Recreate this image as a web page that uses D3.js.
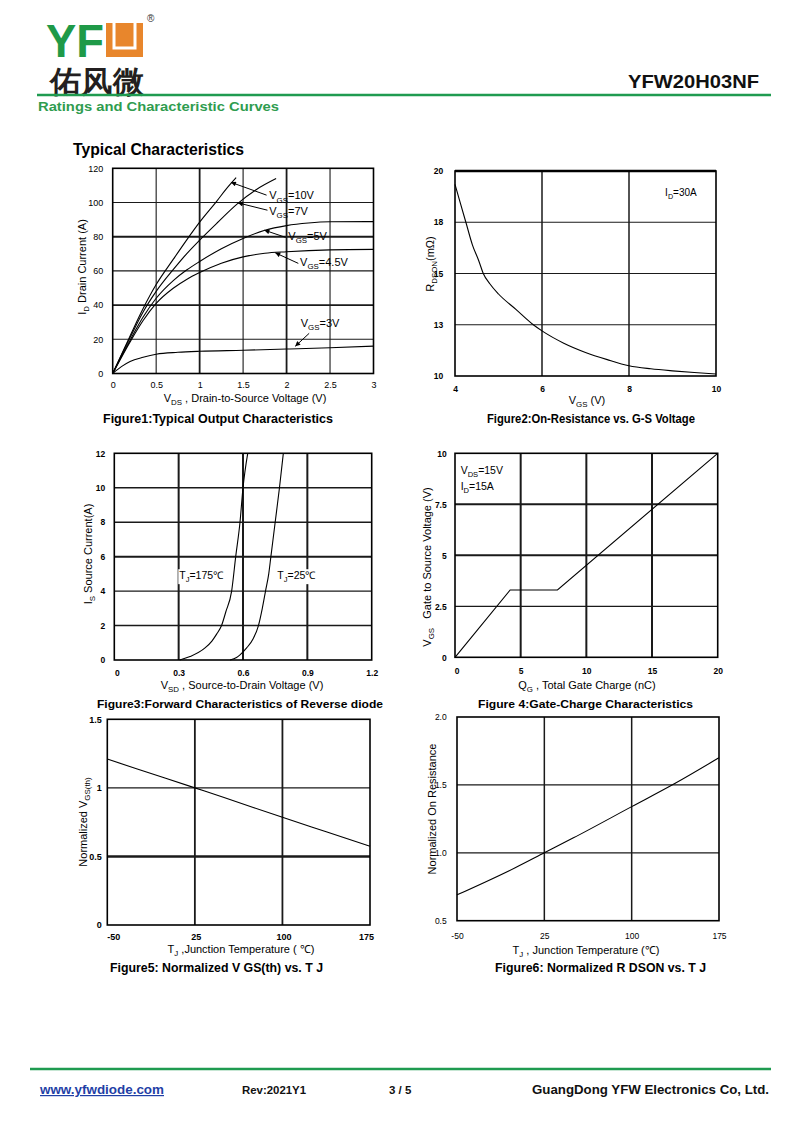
<!DOCTYPE html>
<html><head><meta charset="utf-8">
<script src="https://cdn.jsdelivr.net/npm/d3@7"></script>
<style>
body{margin:0;background:#fff}
svg{display:block}
text{font-family:"Liberation Sans",Arial,sans-serif;white-space:pre}
</style>
</head><body>
<script>
// ===================== DATA =====================
// Figure 1: Typical Output Characteristics (VDS [V], ID [A])
const fig1XTicks = [0, 0.5, 1, 1.5, 2, 2.5, 3];
const fig1XLabels = ["0", "0.5", "1", "1.5", "2", "2.5", "3"];
const fig1YTicks = [0, 20, 40, 60, 80, 100, 120];
const fig1YLabels = ["0", "20", "40", "60", "80", "100", "120"];
const fig1Vgs10 = [[0,0],[0.2,22],[0.35,38],[0.5,52],[0.7,67],[0.85,78],[1.0,88.5],[1.2,101],[1.3,107.5],[1.42,114.5]];
const fig1Vgs7 = [[0,0],[0.2,21],[0.35,36],[0.5,48],[0.7,61],[0.85,70],[1.0,78],[1.2,88],[1.44,99.5],[1.65,107.5],[1.88,114]];
const fig1Vgs5 = [[0,0],[0.2,19.5],[0.35,33],[0.5,44],[0.7,54.5],[0.85,60.5],[1.0,65.5],[1.25,73],[1.5,79],[1.75,83.8],[2.0,86.5],[2.25,88],[2.5,88.7],[3,88.8]];
const fig1Vgs45 = [[0,0],[0.2,18.5],[0.35,31],[0.5,41],[0.7,50],[0.85,55],[1.0,59],[1.25,64.5],[1.5,68.2],[1.75,70.3],[2.0,71.2],[2.5,72.3],[3,72.6]];
const fig1Vgs3 = [[0,0],[0.1,4],[0.2,7],[0.35,9.5],[0.5,11.3],[0.75,12.4],[1.0,13],[1.5,13.6],[2.0,14.3],[2.5,15.1],[3,16]];
const fig1LabelNames = ["=10V", "=7V", "=5V", "=4.5V", "=3V"];
// label anchor [x,y], arrow start [x,y], arrow tip [x,y] in data units
const fig1LabelPos = [[1.80,101.8],[1.80,92.6],[2.02,78],[2.155,62.8],[2.163,27.3]];
const fig1ArrowFrom = [[1.77,104.3],[1.78,95.5],[1.99,79.6],[2.135,64.4],[2.26,23.5]];
const fig1ArrowTo = [[1.36,111.8],[1.44,99.8],[1.745,83.8],[1.87,70.6],[2.10,15.9]];

// Figure 2: On-Resistance vs VGS
const fig2XTicks = [4, 6, 8, 10];
const fig2XLabels = ["4", "6", "8", "10"];
const fig2YTicks = [10, 12.5, 15, 17.5, 20];
const fig2YLabels = ["10", "13", "15", "18", "20"];
const fig2Rdson = [[4,19.35],[4.1,18.6],[4.25,17.5],[4.4,16.4],[4.55,15.6],[4.65,15],[4.8,14.5],[5.0,14.0],[5.4,13.25],[5.8,12.5],[6.0,12.2],[6.5,11.6],[7.0,11.15],[7.5,10.8],[8.0,10.5],[8.5,10.35],[9.0,10.25],[9.5,10.17],[10,10.1]];
const fig2NotePos = [8.83, 18.78];

// Figure 3: Forward characteristics of reverse diode
const fig3XTicks = [0, 0.3, 0.6, 0.9, 1.2];
const fig3XLabels = ["0", "0.3", "0.6", "0.9", "1.2"];
const fig3YTicks = [0, 2, 4, 6, 8, 10, 12];
const fig3YLabels = ["0", "2", "4", "6", "8", "10", "12"];
const fig3Tj175 = [[0.305,0],[0.353,0.2],[0.423,0.7],[0.455,1.1],[0.477,1.5],[0.50,2.0],[0.52,2.8],[0.547,4.0],[0.566,6.0],[0.586,8.0],[0.60,10],[0.622,12]];
const fig3Tj25 = [[0.54,0],[0.57,0.15],[0.586,0.3],[0.617,0.7],[0.648,1.25],[0.672,2.0],[0.69,3.0],[0.705,4.0],[0.72,5.0],[0.73,6.0],[0.75,8.0],[0.77,10],[0.788,12]];
const fig3LabelPos = [[0.303,4.69],[0.76,4.69]];

// Figure 4: Gate charge
const fig4XTicks = [0, 5, 10, 15, 20];
const fig4XLabels = ["0", "5", "10", "15", "20"];
const fig4YTicks = [0, 2.5, 5, 7.5, 10];
const fig4YLabels = ["0", "2.5", "5", "7.5", "10"];
const fig4Vgs = [[0,0],[4.2,3.3],[7.8,3.3],[20,10]];
const fig4NotePos = [[0.43,8.97],[0.43,8.2]];

// Figure 5: Normalized VGS(th) vs TJ
const fig5XTicks = [-50, 25, 100, 175];
const fig5XLabels = ["-50", "25", "100", "175"];
const fig5YTicks = [0, 0.5, 1, 1.5];
const fig5YLabels = ["0", "0.5", "1", "1.5"];
const fig5Vth = [[-50,1.21],[0,1.07],[25,1.0],[50,0.93],[100,0.785],[137.5,0.68],[175,0.575]];

// Figure 6: Normalized RDSON vs TJ
const fig6XTicks = [-50, 25, 100, 175];
const fig6XLabels = ["-50", "25", "100", "175"];
const fig6YTicks = [0.5, 1.0, 1.5, 2.0];
const fig6YLabels = ["0.5", "1.0", "1.5", "2.0"];
const fig6Rdson = [[-50,0.69],[0,0.89],[25,1.0],[50,1.11],[100,1.34],[137,1.51],[175,1.70]];

// ===================== DRAWING =====================
const svg = d3.select('body').append('svg').attr('width', 800).attr('height', 1130);
svg.append('rect').attr('width', 800).attr('height', 1130).attr('fill', '#fff');
const defs = svg.append('defs');
defs.append('marker').attr('id', 'arr').attr('viewBox', '0 0 10 10')
  .attr('refX', 10).attr('refY', 5).attr('markerWidth', 7).attr('markerHeight', 5)
  .attr('markerUnits', 'userSpaceOnUse').attr('orient', 'auto')
  .append('path').attr('d', 'M0,0L10,5L0,10z').attr('fill', '#000');

const SANS = '"Liberation Sans",Arial,sans-serif';
const CAL = 'Lato,"Open Sans",sans-serif';

function rich(parent, parts, fs, attrs) {
  const t = parent.append('text').attr('font-size', fs).attr('fill', '#000');
  for (const k in attrs) t.attr(k, attrs[k]);
  let shifted = false;
  parts.forEach(p => {
    if (typeof p === 'string') {
      const s = t.append('tspan').text(p);
      if (shifted) { s.attr('dy', -fs * 0.28); shifted = false; }
    } else {
      t.append('tspan').text(p.sub).attr('font-size', fs * 0.72).attr('dy', fs * 0.28);
      shifted = true;
    }
  });
  return t;
}

function chart(c) {
  const g = svg.append('g');
  const [L, T, R, B] = c.box;
  const x = d3.scaleLinear().domain(c.xDomain).range([L, R]);
  const y = d3.scaleLinear().domain(c.yDomain).range([B, T]);
  c.xGrid.forEach(v => g.append('line').attr('x1', x(v)).attr('x2', x(v)).attr('y1', T).attr('y2', B)
    .attr('stroke', '#1a1a1a').attr('stroke-width', c.xGridW(v)));
  c.yGrid.forEach(v => g.append('line').attr('y1', y(v)).attr('y2', y(v)).attr('x1', L).attr('x2', R)
    .attr('stroke', '#1a1a1a').attr('stroke-width', c.yGridW(v)));
  g.append('rect').attr('x', L).attr('y', T).attr('width', R - L).attr('height', B - T)
    .attr('fill', 'none').attr('stroke', '#000').attr('stroke-width', c.borderW || 1.6);
  if (c.topW) g.append('line').attr('x1', L).attr('x2', R).attr('y1', T).attr('y2', T).attr('stroke', '#000').attr('stroke-width', c.topW);
  const ax = g.append('g').attr('transform', `translate(0,${B})`)
    .call(d3.axisBottom(x).tickValues(c.xTicks).tickFormat((d, i) => c.xLabels[i]).tickSize(0).tickPadding(c.xPad));
  ax.select('.domain').remove();
  ax.selectAll('text').attr('font-size', c.tickFs).attr('font-weight', c.tickFw || 'normal')
    .attr('font-family', SANS).attr('fill', '#000');
  if (c.xShift) ax.selectAll('text').attr('dx', (d, i) => c.xShift[i] || 0);
  const ay = g.append('g').attr('transform', `translate(${L},0)`)
    .call(d3.axisLeft(y).tickValues(c.yTicks).tickFormat((d, i) => c.yLabels[i]).tickSize(0).tickPadding(c.yPad));
  ay.select('.domain').remove();
  ay.selectAll('text').attr('font-size', c.tickFs).attr('font-weight', c.tickFw || 'normal')
    .attr('font-family', SANS).attr('fill', '#000');
  rich(g, c.xTitle, c.titleFs || 11, { x: c.xTitlePos[0], y: c.xTitlePos[1], 'text-anchor': 'middle' });
  rich(g, c.yTitle, c.titleFs || 11, { transform: `translate(${c.yTitlePos[0]},${c.yTitlePos[1]}) rotate(-90)`, 'text-anchor': 'middle' });
  return { g, x, y };
}

function drawLine(ch, pts, curve) {
  ch.g.append('path').datum(pts)
    .attr('d', d3.line().x(d => ch.x(d[0])).y(d => ch.y(d[1])).curve(curve || d3.curveMonotoneX))
    .attr('fill', 'none').attr('stroke', '#000').attr('stroke-width', 1.1);
}

// ---------- Header ----------
const GREEN = '#1f9b50';
svg.append('text').attr('x', 46).attr('y', 57).attr('font-size', 46).attr('font-weight', 'bold')
  .attr('font-family', SANS).attr('fill', '#1f9a48').attr('textLength', 58).attr('lengthAdjust', 'spacingAndGlyphs').text('YF');
svg.append('rect').attr('x', 106).attr('y', 23).attr('width', 37).attr('height', 34).attr('fill', '#e8862c');
svg.append('path').attr('d', 'M114,23 V48 H135 V23').attr('fill', 'none').attr('stroke', '#fff').attr('stroke-width', 3);
svg.append('text').attr('x', 147).attr('y', 22).attr('font-size', 10).attr('fill', '#333').attr('font-family', SANS).text('®');
svg.append('text').attr('x', 50).attr('y', 91.5).attr('font-size', 30).attr('font-weight', 'bold')
  .attr('font-family', '"Noto Sans CJK SC",sans-serif').attr('fill', '#231f20')
  .attr('textLength', 94).attr('lengthAdjust', 'spacingAndGlyphs').text('佑风微');
svg.append('text').attr('x', 628).attr('y', 88).attr('font-size', 18).attr('font-weight', 'bold')
  .attr('font-family', SANS).attr('fill', '#111').attr('textLength', 131).attr('lengthAdjust', 'spacingAndGlyphs').text('YFW20H03NF');
svg.append('line').attr('x1', 37).attr('x2', 771).attr('y1', 95).attr('y2', 95).attr('stroke', GREEN).attr('stroke-width', 2.5);
svg.append('text').attr('x', 38).attr('y', 111).attr('font-size', 13).attr('font-weight', 'bold')
  .attr('font-family', SANS).attr('fill', '#2f9c4f').attr('textLength', 241).attr('lengthAdjust', 'spacingAndGlyphs')
  .text('Ratings and Characteristic Curves');
svg.append('text').attr('x', 73).attr('y', 155).attr('font-size', 16).attr('font-weight', 'bold')
  .attr('font-family', CAL).attr('fill', '#000').attr('textLength', 171).attr('lengthAdjust', 'spacingAndGlyphs')
  .text('Typical Characteristics');

// ---------- Figure 1 ----------
const f1 = chart({
  box: [112.7, 168.3, 373.5, 373.5], xDomain: [0, 3], yDomain: [0, 120],
  xGrid: fig1XTicks.slice(1, -1), yGrid: fig1YTicks.slice(1, -1),
  xGridW: v => (v === 1 || v === 2) ? 1.8 : 1.1, yGridW: v => (v === 40 || v === 80) ? 1.9 : 1.1,
  xTicks: fig1XTicks, xLabels: fig1XLabels, yTicks: fig1YTicks, yLabels: fig1YLabels,
  xPad: 8.5, yPad: 9.4, tickFs: 9,
  xTitle: ['V', { sub: 'DS' }, ' , Drain-to-Source Voltage (V)'], xTitlePos: [245, 401.5],
  yTitle: ['I', { sub: 'D' }, ' Drain Current (A)'], yTitlePos: [85.5, 267]
});
[fig1Vgs10, fig1Vgs7, fig1Vgs5, fig1Vgs45, fig1Vgs3].forEach(s => drawLine(f1, s));
fig1LabelNames.forEach((n, i) => {
  f1.g.append('line').attr('x1', f1.x(fig1ArrowFrom[i][0])).attr('y1', f1.y(fig1ArrowFrom[i][1]))
    .attr('x2', f1.x(fig1ArrowTo[i][0])).attr('y2', f1.y(fig1ArrowTo[i][1]))
    .attr('stroke', '#000').attr('stroke-width', 1).attr('marker-end', 'url(#arr)');
  rich(f1.g, ['V', { sub: 'GS' }, n], 11, { x: f1.x(fig1LabelPos[i][0]), y: f1.y(fig1LabelPos[i][1]) });
});
svg.append('text').attr('x', 103).attr('y', 423).attr('font-size', 12.5).attr('font-weight', 'bold')
  .attr('font-family', CAL).attr('textLength', 230).attr('lengthAdjust', 'spacingAndGlyphs')
  .text('Figure1:Typical Output Characteristics');

// ---------- Figure 2 ----------
const f2 = chart({
  box: [455, 171, 716, 376], xDomain: [4, 10], yDomain: [10, 20],
  xGrid: fig2XTicks.slice(1, -1), yGrid: fig2YTicks.slice(1, -1),
  xGridW: () => 1.5, yGridW: () => 1.2, topW: 2.6,
  xTicks: fig2XTicks, xLabels: fig2XLabels, yTicks: fig2YTicks, yLabels: fig2YLabels,
  xPad: 10, yPad: 11.7, tickFs: 8.5, tickFw: 'bold',
  xTitle: ['V', { sub: 'GS' }, ' (V)'], xTitlePos: [587, 403.5],
  yTitle: ['R', { sub: 'DSON' }, '(mΩ)'], yTitlePos: [434, 264]
});
drawLine(f2, fig2Rdson);
rich(f2.g, ['I', { sub: 'D' }, '=30A'], 10, { x: f2.x(fig2NotePos[0]), y: f2.y(fig2NotePos[1]) });
svg.append('text').attr('x', 487).attr('y', 423).attr('font-size', 12.5).attr('font-weight', 'bold')
  .attr('font-family', CAL).attr('textLength', 208).attr('lengthAdjust', 'spacingAndGlyphs')
  .text('Figure2:On-Resistance vs. G-S Voltage');

// ---------- Figure 3 ----------
const f3 = chart({
  box: [114.3, 453.3, 371.7, 660], xDomain: [0, 1.2], yDomain: [0, 12],
  xGrid: fig3XTicks.slice(1, -1), yGrid: fig3YTicks.slice(1, -1),
  xGridW: () => 2, yGridW: v => v === 6 ? 2 : 1.4,
  xTicks: fig3XTicks, xLabels: fig3XLabels, yTicks: fig3YTicks, yLabels: fig3YLabels,
  xPad: 9.5, yPad: 9, tickFs: 8.5, tickFw: 'bold', xShift: [2.5, 0, 0, 0, 0],
  xTitle: ['V', { sub: 'SD' }, ' , Source-to-Drain Voltage (V)'], xTitlePos: [242, 688.5],
  yTitle: ['I', { sub: 'S' }, ' Source Current(A)'], yTitlePos: [92, 554]
});
drawLine(f3, fig3Tj175);
drawLine(f3, fig3Tj25);
[['=175℃'], ['=25℃']].forEach((n, i) => {
  const t = rich(f3.g, ['T', { sub: 'J' }, n[0]], 10.5, { x: f3.x(fig3LabelPos[i][0]), y: f3.y(fig3LabelPos[i][1]) });
  const bb = t.node().getBBox();
  f3.g.insert('rect', () => t.node()).attr('x', bb.x - 1).attr('y', bb.y).attr('width', bb.width + 2).attr('height', bb.height).attr('fill', '#fff');
});
svg.append('text').attr('x', 240).attr('y', 707.5).attr('text-anchor', 'middle').attr('font-size', 11).attr('font-weight', 'bold')
  .attr('font-family', SANS).attr('textLength', 286).attr('lengthAdjust', 'spacingAndGlyphs')
  .text('Figure3:Forward Characteristics of Reverse diode');

// ---------- Figure 4 ----------
const f4 = chart({
  box: [455, 453.3, 717.7, 657.3], xDomain: [0, 20], yDomain: [0, 10],
  xGrid: fig4XTicks.slice(1, -1), yGrid: fig4YTicks.slice(1, -1),
  xGridW: () => 2, yGridW: v => v === 2.5 ? 1.3 : 2,
  xTicks: fig4XTicks, xLabels: fig4XLabels, yTicks: fig4YTicks, yLabels: fig4YLabels,
  xPad: 11, yPad: 8.3, tickFs: 8.5, tickFw: 'bold', xShift: [1.5, 0, 0, 0, 0],
  xTitle: ['Q', { sub: 'G' }, ' , Total Gate Charge (nC)'], xTitlePos: [587, 689],
  yTitle: ['V', { sub: 'GS' }, '   Gate to Source Voltage (V)'], yTitlePos: [430.5, 567]
});
drawLine(f4, fig4Vgs, d3.curveLinear);
rich(f4.g, ['V', { sub: 'DS' }, '=15V'], 10.5, { x: f4.x(fig4NotePos[0][0]), y: f4.y(fig4NotePos[0][1]) });
rich(f4.g, ['I', { sub: 'D' }, '=15A'], 10.5, { x: f4.x(fig4NotePos[1][0]), y: f4.y(fig4NotePos[1][1]) });
svg.append('text').attr('x', 585.5).attr('y', 707.5).attr('text-anchor', 'middle').attr('font-size', 11).attr('font-weight', 'bold')
  .attr('font-family', SANS).attr('textLength', 215).attr('lengthAdjust', 'spacingAndGlyphs')
  .text('Figure 4:Gate-Charge Characteristics');

// ---------- Figure 5 ----------
const f5 = chart({
  box: [107.3, 719.3, 370, 925], xDomain: [-50, 175], yDomain: [0, 1.5],
  xGrid: fig5XTicks.slice(1, -1), yGrid: fig5YTicks.slice(1, -1),
  xGridW: () => 1.8, yGridW: v => v === 0.5 ? 2.4 : 1.2,
  xTicks: fig5XTicks, xLabels: fig5XLabels, yTicks: fig5YTicks, yLabels: fig5YLabels,
  xPad: 8.5, yPad: 5.6, tickFs: 9, tickFw: 'bold', xShift: [6, 1, 1, -4],
  xTitle: ['T', { sub: 'J' }, ' ,Junction Temperature ( ℃)'], xTitlePos: [241, 953],
  yTitle: ['Normalized V', { sub: 'GS(th)' }], yTitlePos: [87, 822]
});
drawLine(f5, fig5Vth);
svg.append('text').attr('x', 110).attr('y', 971.5).attr('font-size', 12.5).attr('font-weight', 'bold')
  .attr('font-family', CAL).attr('textLength', 213).attr('lengthAdjust', 'spacingAndGlyphs')
  .text('Figure5: Normalized V GS(th) vs. T J');

// ---------- Figure 6 ----------
const f6 = chart({
  box: [457, 717, 719, 920.7], xDomain: [-50, 175], yDomain: [0.5, 2.0],
  xGrid: fig6XTicks.slice(1, -1), yGrid: fig6YTicks.slice(1, -1),
  xGridW: () => 1.5, yGridW: () => 1.3,
  xTicks: fig6XTicks, xLabels: fig6XLabels, yTicks: fig6YTicks, yLabels: fig6YLabels,
  xPad: 12, yPad: 10.3, tickFs: 8.5,
  xTitle: ['T', { sub: 'J' }, ' , Junction Temperature (℃)'], xTitlePos: [586, 954],
  yTitle: ['Normalized On Resistance'], yTitlePos: [435.5, 809]
});
drawLine(f6, fig6Rdson);
svg.append('text').attr('x', 495).attr('y', 971.5).attr('font-size', 12.5).attr('font-weight', 'bold')
  .attr('font-family', CAL).attr('textLength', 211).attr('lengthAdjust', 'spacingAndGlyphs')
  .text('Figure6: Normalized R DSON vs. T J');

// ---------- Footer ----------
svg.append('line').attr('x1', 30).attr('x2', 771).attr('y1', 1069).attr('y2', 1069).attr('stroke', GREEN).attr('stroke-width', 2.5);
svg.append('text').attr('x', 40).attr('y', 1094).attr('font-size', 12).attr('font-weight', 'bold').attr('font-family', SANS)
  .attr('fill', '#1f3fa6').attr('text-decoration', 'underline').attr('textLength', 124).attr('lengthAdjust', 'spacingAndGlyphs').text('www.yfwdiode.com');
svg.append('text').attr('x', 242).attr('y', 1094).attr('font-size', 11.5).attr('font-weight', 'bold').attr('font-family', SANS)
  .attr('fill', '#111').attr('textLength', 64).attr('lengthAdjust', 'spacingAndGlyphs').text('Rev:2021Y1');
svg.append('text').attr('x', 389).attr('y', 1094).attr('font-size', 11.5).attr('font-weight', 'bold').attr('font-family', SANS)
  .attr('fill', '#111').text('3 / 5');
svg.append('text').attr('x', 532).attr('y', 1094).attr('font-size', 12).attr('font-weight', 'bold').attr('font-family', SANS)
  .attr('fill', '#111').attr('textLength', 237).attr('lengthAdjust', 'spacingAndGlyphs').text('GuangDong YFW Electronics Co, Ltd.');
</script>
</body></html>
